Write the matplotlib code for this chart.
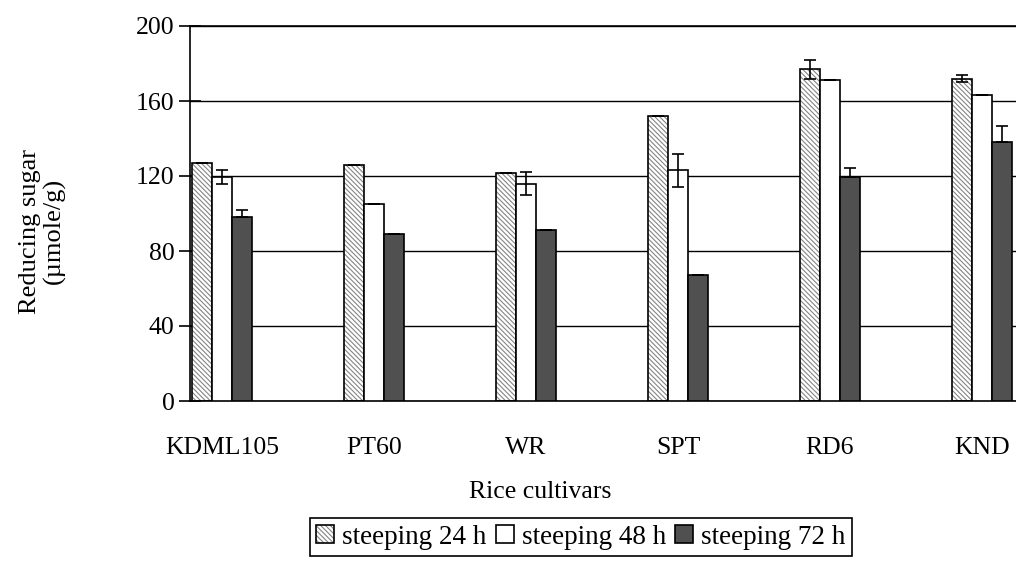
import numpy as np
import matplotlib
matplotlib.use('Agg')
import matplotlib.pyplot as plt

cultivares = ['KDML105', 'PT60', 'WR', 'SPT', 'RD6', 'KND']
serie_24h = [127, 126, 121.5, 152, 177, 172]
serie_48h = [119.5, 105, 116, 123, 171, 163]
serie_72h = [98, 89, 91, 67, 119.5, 138]
erro_24h = [0, 0, 0, 0, 5, 2]
erro_48h = [3.5, 0, 6, 9, 0, 0]
erro_72h = [4, 0, 0, 0, 5, 8.5]
rotulos_legenda = ['steeping 24 h', 'steeping 48 h', 'steeping 72 h']
ticks_y = [0, 40, 80, 120, 160, 200]

plt.rcParams['font.family'] = ['Liberation Serif', 'DejaVu Serif']
plt.rcParams['hatch.linewidth'] = 0.8

W, H = 1016, 561
fig = plt.figure(figsize=(W / 100, H / 100), dpi=100)
ax = fig.add_axes([190 / W, 160 / H, (W - 190) / W, 375 / H])

x = np.arange(len(cultivares))
w = 0.13
erro_kw = dict(ecolor='black', elinewidth=1.2, capsize=4, capthick=1.2)

# 24 h: hachurado cinza com contorno preto
h24 = ax.bar(x - w, serie_24h, w, color='white', edgecolor='#858585',
             hatch='\\' * 7, linewidth=0, zorder=2)
h24_borda = ax.bar(x - w, serie_24h, w, fill=False, edgecolor='black',
                   linewidth=1.2, yerr=erro_24h, error_kw=erro_kw, zorder=3)
h48 = ax.bar(x, serie_48h, w, color='white', edgecolor='black', linewidth=1.2,
             yerr=erro_48h, error_kw=erro_kw, zorder=3)
# a parte de baixo do erro some dentro da barra escura
h72 = ax.bar(x + w, serie_72h, w, color='#505050', edgecolor='black',
             linewidth=1.2, yerr=[np.zeros(len(erro_72h)), erro_72h],
             error_kw=erro_kw, zorder=3)

ax.set_xlim(-0.2105, 5.224)
ax.set_ylim(0, 200)
ax.set_yticks(ticks_y)
ax.set_xticks(x)
ax.set_xticklabels(cultivares, fontsize=18.5)
ax.tick_params(axis='x', length=0, pad=26)
ax.tick_params(axis='y', direction='inout', length=16, width=1.2, pad=3,
               labelsize=18.5)

ax.yaxis.grid(True, color='black', linewidth=1)
ax.set_axisbelow(True)
for lado in ['left', 'bottom', 'top']:
    ax.spines[lado].set_color('black')
    ax.spines[lado].set_linewidth(1.2)
ax.spines['right'].set_visible(False)

fig.text(540 / W, 1 - 492 / H, 'Rice cultivars', fontsize=18.5,
         ha='center', va='center')
fig.text(42 / W, 1 - 231 / H, 'Reducing sugar\n(µmole/g)', fontsize=19,
         rotation=90, ha='center', va='center', multialignment='center',
         linespacing=1.1)

leg = fig.legend([(h24, h24_borda), h48, h72], rotulos_legenda, loc='center',
                 bbox_to_anchor=(581 / W, 1 - 537 / H), ncol=3, fontsize=19.5,
                 frameon=True, fancybox=False, edgecolor='black',
                 framealpha=1, handlelength=0.65, handleheight=0.65,
                 handletextpad=0.3, columnspacing=0.35, borderpad=0.25,
                 borderaxespad=0)
leg.get_frame().set_linewidth(1.2)

fig.savefig('out.png', dpi=100)
